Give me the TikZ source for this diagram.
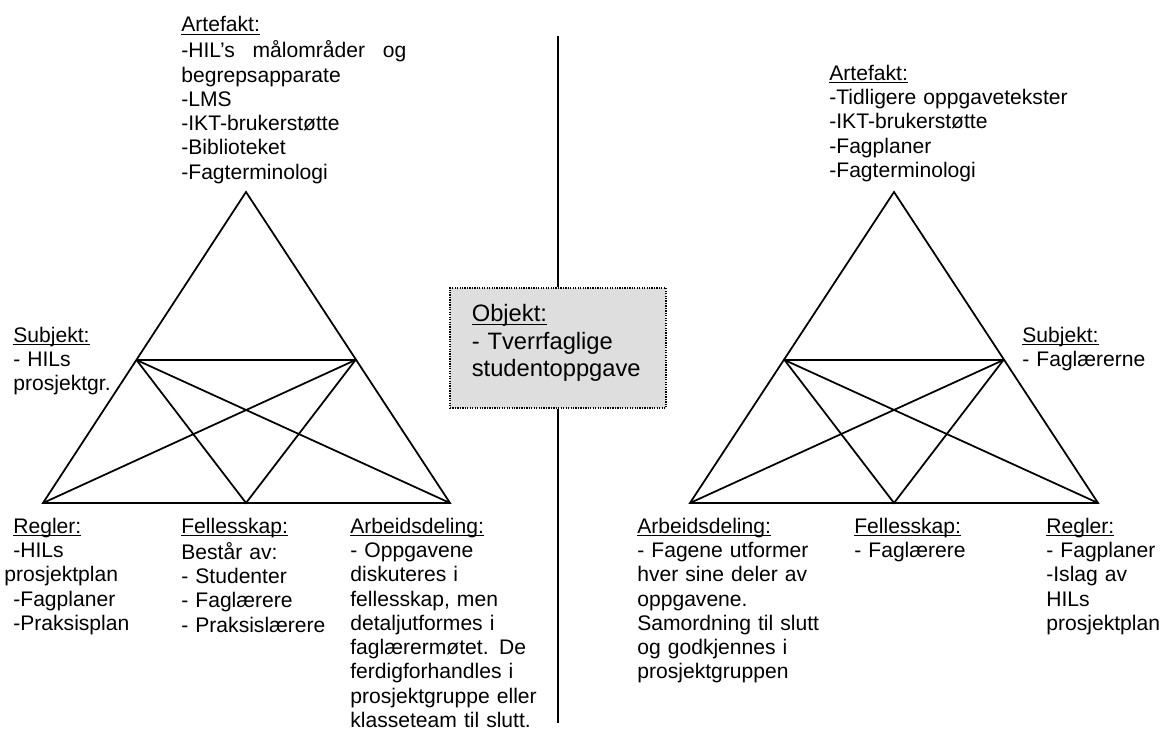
\documentclass[tikz,border=0pt]{standalone}
\usepackage{fontspec}
\setmainfont{Liberation Sans}
\usetikzlibrary{positioning}
\newcommand{\tekstfont}{\fontsize{12}{13.8}\selectfont}
\newcommand{\boksfont}{\fontsize{13.5}{15.6}\selectfont}
\newcommand{\overskrift}[1]{\underline{\smash{#1}}}
\tikzset{
	linje/.style={line width=1pt},
	tekst/.style={anchor=north west, inner sep=0pt, align=left, text width=#1, font=\tekstfont, execute at begin node=\strut},
	tekst/.default=6cm,
	boks/.style={draw, fill=black!13, line width=0.6pt, dash pattern=on 0.7pt off 0.7pt, minimum width=4.32cm, minimum height=2.4cm, inner sep=0pt}
}
\begin{document}
\begin{tikzpicture}
	\useasboundingbox (0,0) rectangle (23.2,14.62);
	\coordinate (vT) at (4.92,10.78);
	\coordinate (vV) at (0.86,4.56);
	\coordinate (vH) at (9.00,4.56);
	\coordinate (vM) at (4.92,4.56);
	\coordinate (vSV) at (2.73,7.42);
	\coordinate (vSH) at (7.11,7.42);
	\draw[linje] (vT) -- (vV) -- (vH) -- cycle;
	\draw[linje] (vSV) -- (vSH);
	\draw[linje] (vSV) -- (vM) -- (vSH);
	\draw[linje] (vSV) -- (vH);
	\draw[linje] (vSH) -- (vV);
	\coordinate (hT) at (17.88,10.78);
	\coordinate (hV) at (13.80,4.56);
	\coordinate (hH) at (21.96,4.56);
	\coordinate (hM) at (17.88,4.56);
	\coordinate (hSV) at (15.69,7.42);
	\coordinate (hSH) at (20.07,7.42);
	\draw[linje] (hT) -- (hV) -- (hH) -- cycle;
	\draw[linje] (hSV) -- (hSH);
	\draw[linje] (hSV) -- (hM) -- (hSH);
	\draw[linje] (hSV) -- (hH);
	\draw[linje] (hSH) -- (hV);
	\node[boks] (objekt) at (11.16,7.66) {};
	\coordinate (toppen) at (11.16,13.90);
	\coordinate (bunnen) at (11.16,0.16);
	\draw[linje] (toppen) -- (objekt.north);
	\draw[linje] (objekt.south) -- (bunnen);
	\node[tekst=3.6cm, font=\boksfont, below right=0.30cm and 0.44cm of objekt.north west] (objekttekst) {\overskrift{Objekt:}\\- Tverrfaglige\\studentoppgave};
	\node[tekst=4.5cm] (vArtefakt) at (3.62,14.33) {\overskrift{Artefakt:}\\-HIL’s\hfill målområder\hfill og\\begrepsapparate\\-LMS\\-IKT-brukerstøtte\\-Biblioteket\\-Fagterminologi};
	\node[tekst] (vSubjekt) at (0.26,8.12) {\overskrift{Subjekt:}\\- HILs\\prosjektgr.};
	\node[tekst] (vRegler) at (0.26,4.30) {\overskrift{Regler:}\\-HILs\\\hspace*{-0.18cm}prosjektplan\\-Fagplaner\\-Praksisplan};
	\node[tekst] (vFellesskap) at (3.62,4.30) {\overskrift{Fellesskap:}\\Består av:\\- Studenter\\- Faglærere\\- Praksislærere};
	\node[tekst] (vArbeidsdeling) at (7.00,4.30) {\overskrift{Arbeidsdeling:}\\- Oppgavene\\diskuteres i\\fellesskap, men\\detaljutformes i\\faglærermøtet. De\\ferdigforhandles i\\prosjektgruppe eller\\klasseteam til slutt.};
	\node[tekst] (hArtefakt) at (16.58,13.36) {\overskrift{Artefakt:}\\-Tidligere oppgavetekster\\-IKT-brukerstøtte\\-Fagplaner\\-Fagterminologi};
	\node[tekst] (hSubjekt) at (20.44,8.12) {\overskrift{Subjekt:}\\- Faglærerne};
	\node[tekst] (hArbeidsdeling) at (12.74,4.30) {\overskrift{Arbeidsdeling:}\\- Fagene utformer\\hver sine deler av\\oppgavene.\\Samordning til slutt\\og godkjennes i\\prosjektgruppen};
	\node[tekst] (hFellesskap) at (17.08,4.30) {\overskrift{Fellesskap:}\\- Faglærere};
	\node[tekst] (hRegler) at (20.92,4.30) {\overskrift{Regler:}\\- Fagplaner\\-Islag av\\HILs\\prosjektplan};
\end{tikzpicture}
\end{document}
